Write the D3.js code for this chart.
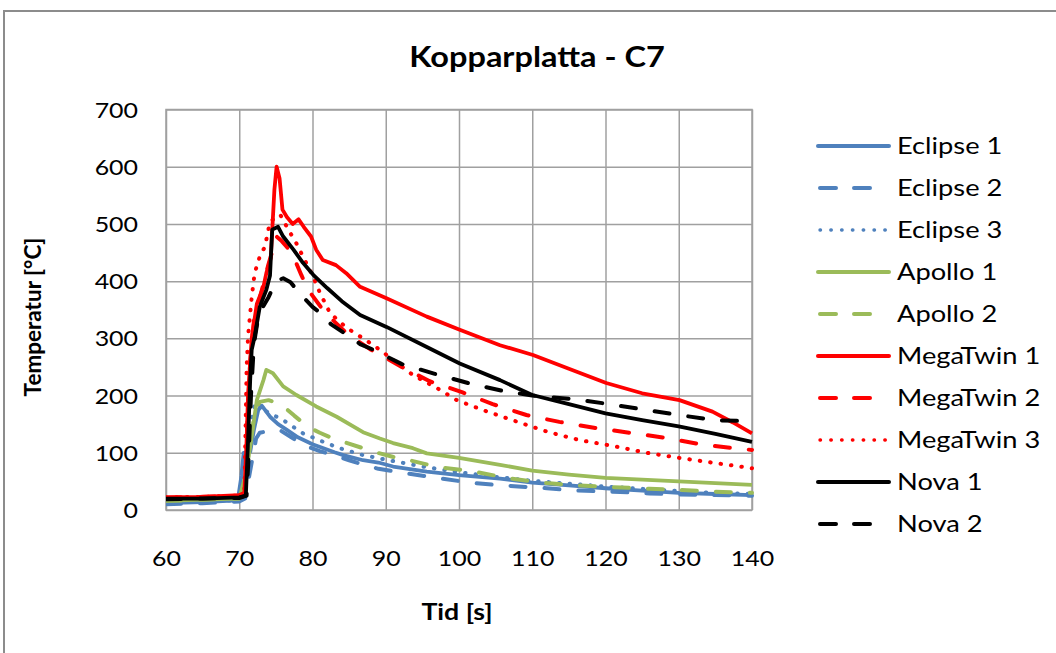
<!DOCTYPE html>
<html>
<head>
<meta charset="utf-8">
<script src="https://cdn.jsdelivr.net/npm/d3@7"></script>
<style>
  body { margin: 0; background: #fff; }
  text { font-family: Lato, "Open Sans", sans-serif; fill: #000; }
</style>
</head>
<body>
<svg id="chart" width="1056" height="653"></svg>
<script>
// values (time in s, temperature in °C)
let xTicks = [60, 70, 80, 90, 100, 110, 120, 130, 140];
let yTicks = [0, 100, 200, 300, 400, 500, 600, 700];
let seriesNames = ["Eclipse 1", "Eclipse 2", "Eclipse 3", "Apollo 1", "Apollo 2",
                   "MegaTwin 1", "MegaTwin 2", "MegaTwin 3", "Nova 1", "Nova 2"];

let eclipse1Time = [60, 65, 69.8, 70.3, 70.6, 71.5, 72, 72.6, 73.1, 74.2, 75.3, 76.5, 78, 80, 81.5, 83, 84.2, 86.9, 89, 91, 95.6, 100, 105.6, 110, 115, 120, 125, 130, 135, 140];
let eclipse1Temp = [12, 14, 17, 60, 100, 102, 140, 175, 182, 163, 150, 140, 127, 115, 108, 101, 96, 87, 83, 76, 67, 61, 55, 48, 43, 38, 34, 30, 28, 26];

let eclipse2Time = [60, 65, 70, 70.8, 71.3, 71.8, 72.3, 72.8, 74, 75.5, 77, 79, 81, 82.8, 85, 87, 89, 92.3, 97, 102, 107, 112, 116, 121, 126, 130, 135, 140];
let eclipse2Temp = [10, 12, 15, 20, 55, 90, 125, 135, 138, 140, 128, 112, 103, 96, 87, 79, 72, 65, 56, 47, 42, 38, 34, 32, 29, 27, 26, 25];

let eclipse3Time = [60, 65, 70, 70.6, 71.2, 71.8, 72.3, 73.3, 76, 78.7, 81.5, 83.7, 86.9, 90, 95, 100, 105, 110, 115, 120, 125, 130, 135, 140];
let eclipse3Temp = [13, 15, 17, 40, 100, 170, 190, 175, 157, 134, 119, 108, 96, 88, 76, 66, 58, 51, 46, 41, 37, 33, 30, 28];

let apollo1Time = [60, 65, 70, 70.8, 71.5, 72.4, 73.3, 73.7, 74.6, 76, 77.8, 80.5, 83.3, 86.9, 89.2, 91, 93.7, 95.6, 100, 105.6, 110, 115, 120, 125, 130, 135, 140];
let apollo1Temp = [16, 18, 20, 58, 111, 192, 227, 245, 239, 216, 201, 181, 163, 136, 125, 117, 108, 99, 91, 79, 69, 62, 56, 53, 50, 47, 44];

let apollo2Time = [60, 65, 70, 70.8, 71.5, 72.2, 72.8, 74, 75.7, 77.5, 79.4, 81, 83, 86.9, 88, 91.5, 92.6, 97.1, 101.7, 107, 112, 116, 121, 126, 130, 135, 140];
let apollo2Temp = [16, 18, 20, 50, 120, 175, 189, 192, 185, 165, 145, 135, 124, 108, 103, 91, 89, 75, 68, 55, 47, 43, 40, 37, 35, 32, 30];

let megaTwin1Time = [60, 65, 70, 70.7, 71, 71.2, 71.7, 72.4, 73.3, 73.7, 74.3, 74.8, 75.1, 75.5, 75.9, 76.5, 77.3, 78.1, 78.8, 79.8, 80.5, 81.4, 83.2, 84.6, 86.5, 90.1, 95.6, 100.1, 105.6, 110.1, 115, 120.1, 125, 130.1, 134.6, 137.4, 140];
let megaTwin1Temp = [22, 23, 26, 30, 120, 200, 300, 360, 390, 414, 440, 560, 600, 580, 525, 512, 500, 508, 495, 478, 455, 437, 428, 414, 390, 370, 338, 315, 288, 271, 247, 222, 204, 192, 172, 153, 134];

let megaTwin2Time = [60, 65, 70, 70.8, 71.1, 71.5, 72, 73, 74, 75.1, 75.8, 76.5, 77.5, 78.5, 79.4, 81.7, 84.9, 88, 92.2, 96, 100.4, 104.6, 109.2, 113.7, 118.8, 123.3, 128.3, 132.9, 137.4, 140];
let megaTwin2Temp = [22, 23, 25, 30, 150, 260, 330, 380, 430, 478, 470, 460, 440, 410, 385, 345, 306, 280, 250, 225, 206, 185, 166, 154, 143, 135, 126, 115, 108, 105];

let megaTwin3Time = [60, 65, 70, 70.7, 71, 71.2, 71.7, 72.1, 72.8, 73.5, 74.2, 75.6, 76.7, 77.8, 78.7, 80, 81, 82.4, 84.7, 87.4, 89.2, 93.7, 97.4, 99.7, 103.2, 107.3, 112, 116.5, 121, 125.6, 130.1, 135, 140];
let megaTwin3Temp = [22, 23, 25, 28, 245, 303, 372, 414, 443, 460, 504, 516, 490, 466, 443, 410, 380, 344, 318, 296, 280, 236, 210, 192, 175, 157, 137, 122, 112, 100, 91, 82, 73];

let nova1Time = [60, 65, 70, 70.9, 71.2, 71.5, 71.7, 72.1, 72.8, 73.7, 74.2, 74.5, 75.3, 76, 77.4, 78.7, 80.1, 82, 84, 86.5, 90.1, 95.6, 100.1, 105.6, 110, 115, 120, 125, 130, 135, 140];
let nova1Temp = [20, 20, 22, 25, 120, 230, 280, 303, 355, 385, 410, 490, 495, 478, 455, 432, 411, 388, 365, 341, 320, 285, 256, 227, 201, 185, 169, 157, 146, 133, 119];

let nova2Time = [60, 65, 70, 71, 71.3, 71.6, 72, 72.5, 73, 74, 75, 76, 77, 78.3, 80, 81, 82.5, 84.7, 86.5, 88.3, 92.2, 96.7, 101.5, 106, 110, 115.5, 120, 125, 130, 135, 140];
let nova2Temp = [19, 20, 21, 25, 100, 200, 290, 330, 350, 372, 400, 405, 398, 378, 355, 345, 325, 306, 290, 280, 255, 238, 221, 208, 200, 194, 186, 176, 166, 157, 155];

let allTimes = [eclipse1Time, eclipse2Time, eclipse3Time, apollo1Time, apollo2Time,
                megaTwin1Time, megaTwin2Time, megaTwin3Time, nova1Time, nova2Time];
let allTemps = [eclipse1Temp, eclipse2Temp, eclipse3Temp, apollo1Temp, apollo2Temp,
                megaTwin1Temp, megaTwin2Temp, megaTwin3Temp, nova1Temp, nova2Temp];

// styles
let colors = ["#4F81BD", "#4F81BD", "#4F81BD", "#9BBB59", "#9BBB59",
              "#FF0000", "#FF0000", "#FF0000", "#000000", "#000000"];
let kinds = ["solid", "dash", "dot", "solid", "dash", "solid", "dash", "dot", "solid", "dash"];
let dashOf = { solid: null, dash: "15,19", dot: "0.5,10" };
let widthOf = { solid: 3.8, dash: 4, dot: 4 };
let sx = 1.16; // the reference text is stretched sideways

let svg = d3.select("#chart");
let plotLeft = 166, plotRight = 752, plotTop = 109.5, plotBottom = 510;

let x = d3.scaleLinear().domain([60, 140]).range([plotLeft, plotRight]);
let y = d3.scaleLinear().domain([0, 700]).range([plotBottom, plotTop]);

// outer chart frame
svg.append("rect")
  .attr("x", 4).attr("y", 11).attr("width", 1200).attr("height", 800)
  .attr("fill", "none").attr("stroke", "#8c8c8c").attr("stroke-width", 2);

// x axis + vertical grid
let gx = svg.append("g").attr("transform", "translate(0," + plotBottom + ")")
  .call(d3.axisBottom(x).tickValues(xTicks).tickSize(-(plotBottom - plotTop)).tickFormat(d3.format("d")));
gx.select(".domain").remove();
gx.selectAll("line").attr("stroke", "#a0a0a0").attr("stroke-width", 1.5);
gx.selectAll("text")
  .attr("y", 0).attr("dy", "0.35em")
  .attr("transform", "translate(0,48) scale(" + sx + ",1)")
  .attr("font-size", 21.5).attr("font-family", "Lato");

// y axis + horizontal grid
let gy = svg.append("g").attr("transform", "translate(" + plotLeft + ",0)")
  .call(d3.axisLeft(y).tickValues(yTicks).tickSize(-(plotRight - plotLeft)).tickFormat(d3.format("d")));
gy.select(".domain").remove();
gy.selectAll("line").attr("stroke", "#a0a0a0").attr("stroke-width", 1.5);
gy.selectAll("text")
  .attr("x", 0).attr("dy", "0.35em")
  .attr("transform", "translate(-28,0) scale(" + sx + ",1)")
  .attr("font-size", 21.5).attr("font-family", "Lato");

// plot area edge
svg.append("rect")
  .attr("x", plotLeft).attr("y", plotTop).attr("width", plotRight - plotLeft).attr("height", plotBottom - plotTop)
  .attr("fill", "none").attr("stroke", "#a0a0a0").attr("stroke-width", 1.5);

svg.append("clipPath").attr("id", "plotclip").append("rect")
  .attr("x", plotLeft).attr("y", plotTop - 5).attr("width", plotRight - plotLeft + 2).attr("height", plotBottom - plotTop + 10);

let line = d3.line().x(d => x(d[0])).y(d => y(d[1]));

let plot = svg.append("g").attr("clip-path", "url(#plotclip)");
plot.selectAll("path.series")
  .data(seriesNames.map((n, i) => d3.zip(allTimes[i], allTemps[i])))
  .enter().append("path")
  .attr("class", "series")
  .attr("fill", "none")
  .attr("stroke", (d, i) => colors[i])
  .attr("stroke-width", (d, i) => widthOf[kinds[i]])
  .attr("stroke-dasharray", (d, i) => dashOf[kinds[i]])
  .attr("stroke-linecap", (d, i) => kinds[i] == "solid" ? "butt" : "round")
  .attr("stroke-linejoin", "round")
  .attr("d", line);

// legend
let legendY = d3.scalePoint().domain(seriesNames).range([146, 524]);
let lg = svg.append("g").selectAll("g").data(seriesNames).enter().append("g")
  .attr("transform", d => "translate(0," + legendY(d) + ")");
lg.append("line")
  .attr("x1", (d, i) => kinds[i] == "solid" ? 818 : 820)
  .attr("x2", (d, i) => kinds[i] == "solid" ? 889 : 887)
  .attr("stroke", (d, i) => colors[i])
  .attr("stroke-width", (d, i) => kinds[i] == "dot" ? 3.4 : 4)
  .attr("stroke-dasharray", (d, i) => kinds[i] == "dash" ? "16,18" : kinds[i] == "dot" ? "0.5,10.3" : null)
  .attr("stroke-linecap", "round");
lg.append("text")
  .attr("transform", "translate(897,0) scale(" + sx + ",1)")
  .attr("dy", "0.35em")
  .attr("font-size", 23.5)
  .text(d => d);

// titles
svg.append("text")
  .attr("transform", "translate(537,57) scale(" + sx + ",1)")
  .attr("text-anchor", "middle").attr("dy", "0.35em")
  .attr("font-size", 28).attr("font-weight", "bold")
  .text("Kopparplatta - C7");

svg.append("text")
  .attr("transform", "translate(457,612) scale(" + sx + ",1)")
  .attr("text-anchor", "middle").attr("dy", "0.35em")
  .attr("font-size", 23).attr("font-weight", "bold")
  .text("Tid [s]");

svg.append("text")
  .attr("transform", "translate(33,317) rotate(-90)")
  .attr("text-anchor", "middle").attr("dy", "0.35em")
  .attr("font-size", 22.5).attr("font-weight", "bold")
  .text("Temperatur [°C]");
</script>
</body>
</html>
